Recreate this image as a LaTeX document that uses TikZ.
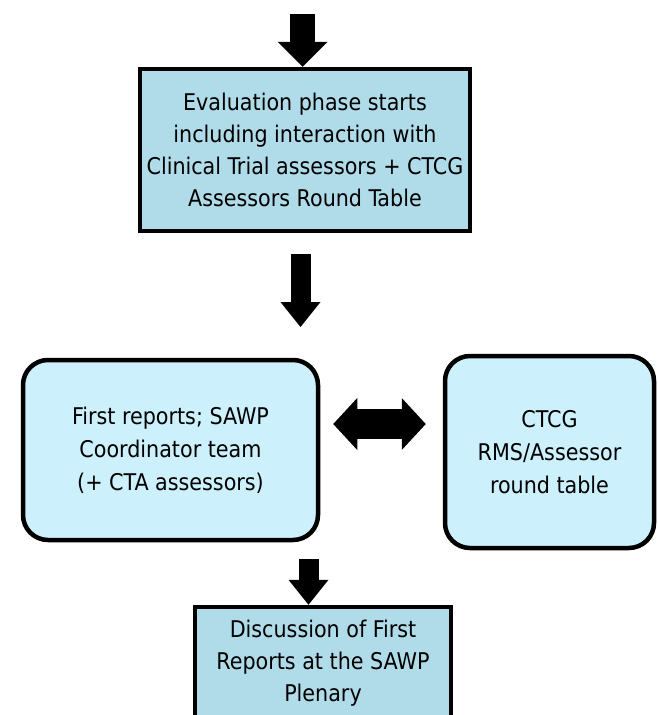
\documentclass[tikz,border=0pt]{standalone}
\usepackage{fontspec}
\setmainfont{DejaVu Sans Condensed}
\usetikzlibrary{positioning,arrows.meta,calc}
\definecolor{phaseblue}{RGB}{176,220,234}
\definecolor{paleblue}{RGB}{204,240,252}
\tikzset{
  phasebox/.style={draw=black, line width=4.5pt, fill=phaseblue, align=center,
    font=\fontsize{23}{32}\selectfont, inner sep=0pt},
  roundbox/.style={draw=black, line width=4.5pt, fill=paleblue, align=center,
    rounded corners=25pt, font=\fontsize{23}{33}\selectfont, inner sep=0pt},
  downarrow/.style={line width=#1, -{Triangle[length=25pt,width=2*#1,line width=0pt]}},
  bothways/.style={line width=30pt,
    {Triangle[length=24pt,width=52pt,line width=0pt]}-{Triangle[length=24pt,width=52pt,line width=0pt]}}
}

\begin{document}
\begin{tikzpicture}[x=1pt, y=-1pt]
    \clip (0,0) rectangle (658,715);
    \fill[white] (0,0) rectangle (658,715);

    \node[phasebox, minimum width=330pt, minimum height=162pt] (evalbox) at (305,150)
      {Evaluation phase starts\\including interaction with\\Clinical Trial assessors + CTCG\\Assessors Round Table};
    \node[roundbox, minimum width=295pt, minimum height=180pt] (reports) at (170.5,450)
      {First reports; SAWP\\Coordinator team\\(+ CTA assessors)};
    \node[roundbox, minimum width=209pt, minimum height=192pt] (roundtable) at (549.5,452)
      {CTCG\\RMS/Assessor\\round table};
    \node[phasebox, minimum width=256pt, minimum height=112pt] (plenary) at (323,663)
      {Discussion of First\\Reports at the SAWP\\Plenary};

    \coordinate (incoming) at (302.5,14);
    \coordinate (secondrow) at (300.5,327);
    \coordinate (merge) at (308.5,559);

    \draw[downarrow=25pt] (incoming) -- (incoming |- evalbox.north);
    \draw[downarrow=20pt] (secondrow |- evalbox.south) ++(0,21) -- (secondrow);
    \draw[downarrow=20pt] (merge) -- (merge |- plenary.north);
    \draw[bothways] ([xshift=13pt,yshift=26pt]reports.east) -- ([xshift=-17pt,yshift=28pt]roundtable.west);
\end{tikzpicture}
\end{document}
